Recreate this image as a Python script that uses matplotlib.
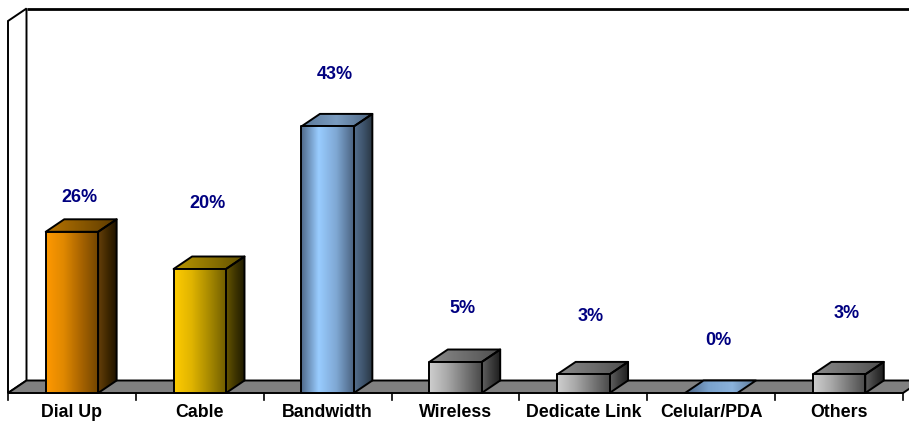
import numpy as np
import matplotlib
matplotlib.use("Agg")
import matplotlib.pyplot as plt
from matplotlib.patches import Polygon
from matplotlib.colors import LinearSegmentedColormap

plt.rcParams['font.family'] = ['Liberation Sans', 'DejaVu Sans']

# ---- data ----
categories = ["Dial Up", "Cable", "Bandwidth", "Wireless", "Dedicate Link", "Celular/PDA", "Others"]
shares = [26, 20, 43, 5, 3, 0, 3]
value_labels = [f"{v}%" for v in shares]

# ---- layout ----
label_heights = [31.5, 30.6, 51.3, 13.7, 12.3, 8.4, 12.9]   # label centre heights in % units
wall_top = 60
bar_width = 0.41
px_x = 895 / 7.0          # pixels per category
px_y = 6.2                # pixels per percentage point
DX = 18.5 / px_x          # depth offset (x)
DY = 12.5 / px_y          # depth offset (y)

# face gradients: (front, side, top)
styles = {
    "orange": (["#ff9900", "#e08800", "#a86400", "#704400"],
               ["#66400a", "#402800", "#1e1200"],
               ["#b87400", "#8a5800", "#5c3a00"]),
    "gold":   (["#ffcc00", "#e0b400", "#a88a00", "#6e5c00"],
               ["#665600", "#3e3400", "#1e1a00"],
               ["#b89600", "#8e7400", "#5e4e00"]),
    "blue":   (["#4e6888", "#99ccff", "#7fa8d4", "#4a6280"],
               ["#56708e", "#3e546c", "#283440"],
               ["#5a7898", "#7a9cc0", "#4c6480"]),
    "gray":   (["#cfcfcf", "#aaaaaa", "#7a7a7a", "#4a4a4a"],
               ["#606060", "#3c3c3c", "#1c1c1c"],
               ["#8a8a8a", "#6e6e6e", "#4e4e4e"]),
}
bar_styles = ["orange", "gold", "blue", "gray", "gray", "blue", "gray"]

fig = plt.figure(figsize=(9.09, 4.25), dpi=100)
ax = fig.add_axes([0, 0, 1, 1])
ax.axis('off')

x_left, x_right = -0.5, len(categories) - 0.5
ax.set_xlim(x_left - 8 / px_x, x_left + 901 / px_x)
ax.set_ylim(-32 / px_y, 393 / px_y)

LW = 1.4


def grad_face(verts, colors, z):
    poly = Polygon(verts, closed=True, facecolor='none', edgecolor='black',
                   lw=LW, joinstyle='round', zorder=z + 0.5)
    ax.add_patch(poly)
    xs = [v[0] for v in verts]
    ys = [v[1] for v in verts]
    cmap = LinearSegmentedColormap.from_list("face", colors)
    im = ax.imshow(np.linspace(0, 1, 256)[None, :], cmap=cmap, aspect='auto',
                   extent=(min(xs), max(xs), min(ys), max(ys)), origin='lower',
                   interpolation='bilinear', zorder=z)
    im.set_clip_path(poly)


# walls
side_wall = [(x_left, 0), (x_left, wall_top), (x_left + DX, wall_top + DY), (x_left + DX, DY)]
ax.add_patch(Polygon(side_wall, closed=True, facecolor='white', edgecolor='black', lw=LW, zorder=1))
ax.plot([x_left + DX, x_right + DX + 1], [wall_top + DY, wall_top + DY], color='black', lw=2.0,
        solid_capstyle='butt', zorder=1.2)

# floor
floor = [(x_left, 0), (x_right, 0), (x_right + DX, DY), (x_left + DX, DY)]
ax.add_patch(Polygon(floor, closed=True, facecolor='#808080', edgecolor='black', lw=LW, zorder=2))

# tick marks on the front floor edge
for k in range(len(categories) + 1):
    ax.plot([x_left + k, x_left + k], [0, -7 / px_y], color='black', lw=1.2, zorder=2)

# bars
for i, (v, st) in enumerate(zip(shares, bar_styles)):
    front_c, side_c, top_c = styles[st]
    x0 = i - bar_width / 2
    x1 = i + bar_width / 2
    top = [(x0, v), (x1, v), (x1 + DX, v + DY), (x0 + DX, v + DY)]
    if v > 0:
        side = [(x1, 0), (x1 + DX, DY), (x1 + DX, v + DY), (x1, v)]
        front = [(x0, 0), (x1, 0), (x1, v), (x0, v)]
        grad_face(side, side_c, 3)
        grad_face(top, top_c, 3)
        grad_face(front, front_c, 4)
    else:
        grad_face(top, ["#4a6282", "#7aa2cc", "#8ab2dc", "#5a7898"], 3)

# value labels
for i, (txt, h) in enumerate(zip(value_labels, label_heights)):
    ax.text(i + 0.058, h, txt, ha='center', va='center', fontsize=13,
            fontweight='bold', color='#000080', zorder=6)

# category labels
for i, name in enumerate(categories):
    ax.text(i, -19.5 / px_y, name, ha='center', va='center', fontsize=12.8,
            fontweight='bold', color='black', zorder=6)

fig.savefig("out.png", dpi=100, facecolor='white')
